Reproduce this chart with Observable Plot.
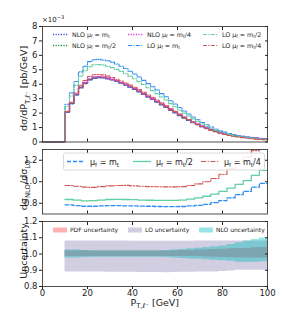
<!DOCTYPE html>
<html><head><meta charset="utf-8">
<script src="https://cdn.jsdelivr.net/npm/d3@7"></script>
<script src="https://cdn.jsdelivr.net/npm/@observablehq/plot@0.6"></script>
<style>
body{margin:0;background:#fff;}
#chart{position:relative;width:282px;height:329px;font-family:"DejaVu Sans",sans-serif;}
#chart svg{position:absolute;left:0;overflow:visible;}
</style></head><body><div id="chart"></div>
<script>
// ---------- data ----------
// top panel: 2 GeV bins from 10 to 100 GeV (values in 1e-3 pb/GeV)
const ptTopLow = d3.range(10, 100, 2);
const nloMt  = [2.05,2.65,3.25,3.75,4.05,4.3,4.42,4.45,4.45,4.38,4.3,4.2,4.08,3.95,3.8,3.65,3.48,3.3,3.12,2.95,2.77,2.58,2.4,2.2,2.02,1.84,1.66,1.5,1.34,1.2,1.06,0.94,0.83,0.73,0.64,0.57,0.5,0.44,0.39,0.35,0.31,0.28,0.25,0.22,0.2];
const nloMt2 = [2.08,2.68,3.28,3.78,4.08,4.33,4.45,4.48,4.47,4.4,4.32,4.22,4.1,3.97,3.82,3.67,3.5,3.32,3.14,2.97,2.79,2.6,2.42,2.22,2.04,1.86,1.68,1.52,1.36,1.22,1.08,0.96,0.85,0.75,0.66,0.58,0.51,0.45,0.4,0.36,0.32,0.29,0.26,0.23,0.21];
const nloMt4 = [2.1,2.72,3.32,3.82,4.12,4.37,4.5,4.52,4.5,4.43,4.35,4.25,4.13,4.0,3.85,3.7,3.53,3.35,3.17,3.0,2.82,2.63,2.45,2.25,2.07,1.89,1.71,1.55,1.39,1.25,1.11,0.99,0.88,0.78,0.69,0.61,0.54,0.48,0.43,0.38,0.34,0.31,0.28,0.25,0.22];
const loMt   = [2.61,3.40,4.19,4.86,5.25,5.57,5.70,5.72,5.68,5.63,5.53,5.40,5.25,5.09,4.90,4.71,4.50,4.27,4.04,3.83,3.60,3.35,3.13,2.86,2.63,2.39,2.15,1.94,1.73,1.54,1.35,1.19,1.04,0.90,0.78,0.69,0.59,0.51,0.45,0.39,0.34,0.30,0.26,0.23,0.20];
const loMt2  = [2.46,3.19,3.92,4.55,4.93,5.22,5.35,5.36,5.34,5.25,5.15,5.03,4.89,4.73,4.56,4.38,4.18,3.98,3.76,3.56,3.35,3.12,2.91,2.66,2.44,2.22,2.00,1.80,1.60,1.42,1.24,1.08,0.95,0.82,0.71,0.62,0.53,0.46,0.40,0.35,0.31,0.27,0.23,0.20,0.18];
const loMt4  = [2.12,2.75,3.39,3.93,4.26,4.54,4.66,4.67,4.65,4.56,4.47,4.35,4.22,4.09,3.94,3.79,3.63,3.44,3.26,3.09,2.91,2.71,2.52,2.31,2.12,1.93,1.73,1.56,1.38,1.22,1.07,0.94,0.81,0.71,0.61,0.53,0.45,0.39,0.34,0.30,0.26,0.23,0.20,0.17,0.15];

// ratio & uncertainty panels: 3.6 GeV bins from 10 to 100 GeV
const ptLow = d3.range(25).map(i => 10 + i * 3.6);
const ratioMt  = [0.785,0.778,0.772,0.772,0.775,0.778,0.778,0.776,0.775,0.773,0.772,0.77,0.768,0.768,0.77,0.775,0.78,0.79,0.805,0.825,0.85,0.88,0.91,0.95,0.985];
const ratioMt2 = [0.835,0.83,0.822,0.825,0.83,0.835,0.836,0.835,0.833,0.83,0.828,0.827,0.826,0.826,0.83,0.838,0.85,0.865,0.885,0.91,0.94,0.975,1.01,1.06,1.105];
const ratioMt4 = [0.965,0.958,0.95,0.948,0.955,0.962,0.965,0.966,0.962,0.958,0.955,0.953,0.952,0.952,0.955,0.965,0.98,1.0,1.03,1.07,1.12,1.17,1.23,1.29,1.36];

const pdfLo = [0.984,0.984,0.984,0.985,0.985,0.985,0.985,0.985,0.985,0.985,0.985,0.985,0.985,0.985,0.985,0.984,0.983,0.982,0.98,0.978,0.977,0.976,0.975,0.975,0.975];
const pdfHi = [1.02,1.02,1.02,1.018,1.018,1.018,1.018,1.018,1.018,1.018,1.018,1.018,1.019,1.02,1.021,1.022,1.024,1.026,1.028,1.03,1.032,1.034,1.036,1.038,1.04];
const loUncLo = [0.89,0.89,0.89,0.889,0.889,0.888,0.888,0.888,0.887,0.886,0.886,0.886,0.885,0.886,0.887,0.888,0.889,0.89,0.89,0.892,0.895,0.9,0.9,0.9,0.9];
const loUncHi = [1.08,1.08,1.08,1.08,1.08,1.08,1.08,1.08,1.079,1.079,1.079,1.079,1.079,1.079,1.079,1.079,1.08,1.08,1.08,1.08,1.08,1.08,1.08,1.08,1.08];
const nloUncLo = [0.975,0.975,0.978,0.98,0.98,0.98,0.98,0.98,0.98,0.98,0.98,0.98,0.978,0.975,0.972,0.97,0.968,0.965,0.962,0.958,0.955,0.95,0.948,0.95,0.952];
const nloUncHi = [1.025,1.025,1.022,1.02,1.02,1.02,1.02,1.02,1.02,1.02,1.02,1.02,1.022,1.025,1.028,1.032,1.036,1.04,1.045,1.05,1.058,1.07,1.08,1.09,1.098];

const xTicks = [0,20,40,60,80,100];
const yTopTicks = [0,1,2,3,4,5,6,7,8];
const yRatioTicks = [0.8,1.0,1.2];
const yUncTicks = [0.8,0.9,1.0,1.1,1.2];

// ---------- helpers ----------
const FONT = "DejaVu Sans";
function stepRows(lows, vals, hiEnd, lead) {
  const rows = lows.map((x, i) => ({x, y: vals[i]}));
  rows.push({x: hiEnd, y: vals[vals.length - 1]});
  if (lead) rows.unshift({x: 0, y: 0});
  return rows;
}
function bandRows(lows, lo, hi, hiEnd) {
  const rows = lows.map((x, i) => ({x, y1: lo[i], y2: hi[i]}));
  rows.push({x: hiEnd, y1: lo[lo.length - 1], y2: hi[hi.length - 1]});
  return rows;
}
function rich(svg, x, y, parts, size, opts = {}) {
  const g = d3.select(svg).append("g")
    .attr("transform", `translate(${x},${y})` + (opts.rotate ? " rotate(-90)" : ""));
  const t = g.append("text").attr("x", 0).attr("y", 0)
    .attr("font-size", size).attr("font-family", FONT).attr("fill", "#222")
    .attr("text-anchor", opts.anchor || "start");
  let shift = 0;
  for (const p of parts) {
    const [s, kind] = Array.isArray(p) ? p : [p, "n"];
    const target = kind === "sub" ? size * 0.28 : kind === "sup" ? -size * 0.42 : 0;
    const ts = t.append("tspan").text(s).attr("dy", target - shift);
    if (kind !== "n") ts.attr("font-size", size * 0.72);
    shift = target;
  }
  return t;
}
function sample(svg, x1, x2, y, color, dash, w) {
  d3.select(svg).append("line").attr("x1", x1).attr("x2", x2).attr("y1", y).attr("y2", y)
    .attr("stroke", color).attr("stroke-width", w).attr("stroke-dasharray", dash || null);
}
function swatch(svg, x, y, w, h, color, op) {
  d3.select(svg).append("rect").attr("x", x).attr("y", y).attr("width", w).attr("height", h)
    .attr("fill", color).attr("fill-opacity", op);
}
const common = {width: 282, marginLeft: 42, marginRight: 15,
  style: {fontFamily: FONT, fontSize: "8.5px", background: "transparent", color: "#222", overflow: "visible"}};
function innerTicks(yTicks) {
  return [
    Plot.axisX({anchor: "bottom", ticks: [20,40,60,80], tickSize: -3, tickFormat: () => "", label: null}),
    Plot.axisX({anchor: "top", ticks: [20,40,60,80], tickSize: -3, tickFormat: () => "", label: null}),
    Plot.axisY({anchor: "right", ticks: yTicks, tickSize: -3, tickFormat: () => "", label: null})
  ];
}

// ---------- top panel ----------
const series = [
  {vals: nloMt,  color: "#4747e6", dash: "1.2,1.4", w: 1.4},
  {vals: nloMt2, color: "#1f8a2a", dash: "1.2,1.4", w: 1.4},
  {vals: nloMt4, color: "#e03ce0", dash: "1.2,1.4", w: 1.4},
  {vals: loMt,   color: "#2f8cf5", dash: "4,1.4,1,1.4", w: 1.1},
  {vals: loMt2,  color: "#5fd0a2", dash: "4,1.4,1,1.4", w: 1.1},
  {vals: loMt4,  color: "#d15353", dash: "4,1.4,1,1.4", w: 1.1}
];
const topPlot = Plot.plot({
  ...common, height: 145, marginTop: 26, marginBottom: 3.5,
  x: {domain: [0, 100], axis: null},
  y: {domain: [0, 8], axis: null},
  marks: [
    ...series.map(s => Plot.line(stepRows(ptTopLow, s.vals, 100, true),
      {x: "x", y: "y", curve: "step-after", stroke: s.color, strokeWidth: s.w, strokeDasharray: s.dash})),
    Plot.axisY({ticks: yTopTicks, tickSize: 3, tickPadding: 2, label: null}),
    ...innerTicks(yTopTicks),
    Plot.frame({stroke: "#222", strokeWidth: 0.8})
  ]
});

// ---------- ratio panel ----------
const ratioSeries = [
  {vals: ratioMt,  color: "#2f8cf5", dash: "4,2", w: 1.3},
  {vals: ratioMt2, color: "#5fd0a2", dash: null, w: 1.3},
  {vals: ratioMt4, color: "#d15353", dash: "5,1.6,1.2,1.6", w: 1.1}
];
const ratioPlot = Plot.plot({
  ...common, height: 72, marginTop: 4, marginBottom: 3.5,
  x: {domain: [0, 100], axis: null},
  y: {domain: [0.7, 1.3], axis: null},
  marks: [
    ...ratioSeries.map(s => Plot.line(stepRows(ptLow, s.vals, 100, false),
      {x: "x", y: "y", curve: "step-after", stroke: s.color, strokeWidth: s.w, strokeDasharray: s.dash, clip: true})),
    Plot.axisY({ticks: yRatioTicks, tickSize: 3, tickPadding: 2, tickFormat: d3.format(".1f"), label: null}),
    ...innerTicks(yRatioTicks),
    Plot.frame({stroke: "#222", strokeWidth: 0.8})
  ]
});

// ---------- uncertainty panel ----------
const bands = [
  {lo: pdfLo, hi: pdfHi, color: "#ff0000", op: 0.3},
  {lo: loUncLo, hi: loUncHi, color: "#483d8b", op: 0.25},
  {lo: nloUncLo, hi: nloUncHi, color: "#00bfbf", op: 0.4}
];
const uncPlot = Plot.plot({
  ...common, height: 112, marginTop: 4, marginBottom: 43,
  x: {domain: [0, 100], axis: null},
  y: {domain: [0.8, 1.2], axis: null},
  marks: [
    ...bands.map(b => Plot.areaY(bandRows(ptLow, b.lo, b.hi, 100),
      {x: "x", y1: "y1", y2: "y2", curve: "step-after", fill: b.color, fillOpacity: b.op})),
    Plot.axisX({ticks: xTicks, tickSize: 3, tickPadding: 0, label: null}),
    Plot.axisY({ticks: yUncTicks, tickSize: 3, tickPadding: 2, tickFormat: d3.format(".1f"), label: null}),
    Plot.axisX({anchor: "top", ticks: [20,40,60,80], tickSize: -3, tickFormat: () => "", label: null}),
    Plot.axisY({anchor: "right", ticks: yUncTicks, tickSize: -3, tickFormat: () => "", label: null}),
    Plot.frame({stroke: "#222", strokeWidth: 0.8})
  ]
});

const chart = document.getElementById("chart");
topPlot.style.top = "0px";
ratioPlot.style.top = "145px";
uncPlot.style.top = "217px";
chart.append(topPlot, ratioPlot, uncPlot);

// ---------- annotations: top ----------
rich(topPlot, 42, 21.5, ["×10", ["−3", "sup"]], 7);
rich(topPlot, 27, 88.5, ["dσ/dP", ["T,ℓ⁻", "sub"], " [pb/GeV]"], 9.5, {anchor: "middle", rotate: true});
const legTop = [
  {x: 53, y: 34.5, s: series[0], txt: ["NLO μ", ["f", "sub"], " = m", ["t", "sub"]]},
  {x: 53, y: 45.5, s: series[1], txt: ["NLO μ", ["f", "sub"], " = m", ["t", "sub"], "/2"]},
  {x: 128, y: 34.5, s: series[2], txt: ["NLO μ", ["f", "sub"], " = m", ["t", "sub"], "/4"]},
  {x: 128, y: 45.5, s: series[3], txt: ["LO μ", ["f", "sub"], " = m", ["t", "sub"]]},
  {x: 203, y: 34.5, s: series[4], txt: ["LO μ", ["f", "sub"], " = m", ["t", "sub"], "/2"]},
  {x: 203, y: 45.5, s: series[5], txt: ["LO μ", ["f", "sub"], " = m", ["t", "sub"], "/4"]}
];
for (const l of legTop) {
  sample(topPlot, l.x, l.x + 15, l.y, l.s.color, l.s.dash, l.s.w);
  rich(topPlot, l.x + 19, l.y + 2.2, l.txt, 6.3);
}

// ---------- annotations: ratio ----------
rich(ratioPlot, 27, 40, ["dσ", ["NLO", "sub"], "/dσ", ["LO", "sub"]], 9.5, {anchor: "middle", rotate: true});
d3.select(ratioPlot).append("rect").attr("x", 63.5).attr("y", 8).attr("width", 201).attr("height", 17)
  .attr("rx", 2).attr("fill", "#fff").attr("fill-opacity", 0.85).attr("stroke", "#d0d0d0").attr("stroke-width", 0.8);
const legRatio = [
  {x: 67, s: ratioSeries[0], txt: ["μ", ["f", "sub"], " = m", ["t", "sub"]]},
  {x: 133, s: ratioSeries[1], txt: ["μ", ["f", "sub"], " = m", ["t", "sub"], "/2"]},
  {x: 201, s: ratioSeries[2], txt: ["μ", ["f", "sub"], " = m", ["t", "sub"], "/4"]}
];
for (const l of legRatio) {
  sample(ratioPlot, l.x, l.x + 18, 16.5, l.s.color, l.s.dash, l.s.w);
  rich(ratioPlot, l.x + 23, 19.5, l.txt, 8);
}

// ---------- annotations: uncertainty ----------
rich(uncPlot, 27, 34, ["Uncertainty"], 9.5, {anchor: "middle", rotate: true});
rich(uncPlot, 154.75, 88.5, ["P", ["T,ℓ⁻", "sub"], " [GeV]"], 9.5, {anchor: "middle"});
const legUnc = [
  {x: 53, b: bands[0], txt: "PDF uncertainty"},
  {x: 128, b: bands[1], txt: "LO uncertainty"},
  {x: 199, b: bands[2], txt: "NLO uncertainty"}
];
for (const l of legUnc) {
  swatch(uncPlot, l.x, 10.5, 14, 5, l.b.color, l.b.op);
  rich(uncPlot, l.x + 17, 15.3, [l.txt], 6);
}
</script></body></html>
